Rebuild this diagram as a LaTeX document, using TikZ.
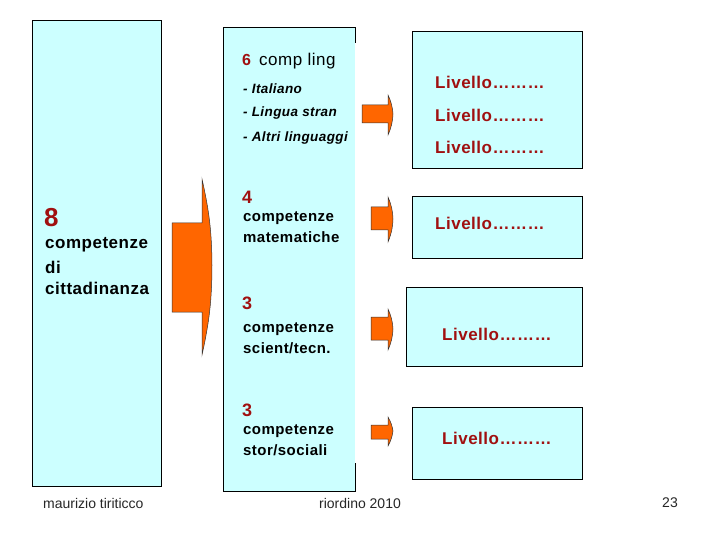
\documentclass[tikz,border=0pt]{standalone}
\usepackage{fontspec}
\setmainfont{Liberation Sans}
\newfontfamily\spaced[LetterSpace=3]{Liberation Sans}
\begin{document}
\begin{tikzpicture}[x=1pt,y=-1pt,
  panel/.style={fill=boxcyan,draw=black,line width=0.8pt},
  arrowshape/.style={fill=arroworange,draw=black!80,line width=0.5pt,line join=miter},
  lbl/.style={anchor=west,inner sep=0pt,font=\spaced\bfseries\fontsize{15}{17}\selectfont},
  num/.style={anchor=west,inner sep=0pt,text=numred,font=\bfseries\fontsize{18}{20}\selectfont},
  lang/.style={anchor=west,inner sep=0pt,font=\spaced\bfseries\itshape\fontsize{13.5}{15}\selectfont},
  liv/.style={anchor=west,inner sep=0pt,text=numred,font=\spaced\bfseries\fontsize{17}{19}\selectfont},
  foot/.style={inner sep=0pt,text=black!85,font=\fontsize{14}{16}\selectfont}]
\definecolor{boxcyan}{HTML}{CCFFFF}
\definecolor{arroworange}{HTML}{FF6600}
\definecolor{numred}{RGB}{160,16,16}
\useasboundingbox (0,0) rectangle (720,540);
% left panel
\draw[panel] (32,20) rectangle (161,486);
\node[num,font=\bfseries\fontsize{26}{28}\selectfont] (n8) at (44,218) {8};
\node[lbl,font=\spaced\bfseries\fontsize{17}{19}\selectfont] (l1) at (45,245) {competenze};
\node[lbl,font=\spaced\bfseries\fontsize{17}{19}\selectfont] (l2) at (45,267) {di};
\node[lbl,font=\spaced\bfseries\fontsize{17}{19}\selectfont] (l3) at (45,288) {cittadinanza};
% big arrow
\draw[arrowshape] (172,223) -- (202,223) -- (202,179) to[bend left=6] (212,265) to[bend left=6] (202,355) -- (202,312) -- (172,312) -- cycle;
% middle panel
\fill[boxcyan] (223,27) rectangle (355,491);
\draw[line width=0.8pt] (355,43) -- (355,27) -- (223,27) -- (223,491) -- (355,491) -- (355,463);
\node[num,font=\bfseries\fontsize{16}{18}\selectfont] (n6) at (242,60) {6};
\node[anchor=west,inner sep=0pt,font=\spaced\fontsize{17}{19}\selectfont] (cl) at (259,61) {comp ling};
\node[lang] (it) at (243,89) {- Italiano};
\node[lang] (ls) at (243,113) {- Lingua stran};
\node[lang] (al) at (243,138) {- Altri linguaggi};
\node[num] (n4) at (242,197) {4};
\node[lbl] (m1) at (243,218) {competenze};
\node[lbl] (m2) at (243,237) {matematiche};
\node[num] (n3a) at (242,303) {3};
\node[lbl] (s1) at (243,329) {competenze};
\node[lbl] (s2) at (243,348) {scient/tecn.};
\node[num] (n3b) at (242,410) {3};
\node[lbl] (h1) at (243,431) {competenze};
\node[lbl] (h2) at (243,450) {stor/sociali};
% small arrows
\draw[arrowshape] (362,105) -- (388,105) -- (388,95) to[bend left=10] (393,114) to[bend left=10] (388,135) -- (388,123) -- (362,123) -- cycle;
\draw[arrowshape] (371,207) -- (388,207) -- (388,197) to[bend left=10] (393,219) to[bend left=10] (388,242) -- (388,230) -- (371,230) -- cycle;
\draw[arrowshape] (371,317) -- (388,317) -- (388,309) to[bend left=10] (393,329) to[bend left=10] (388,350) -- (388,340) -- (371,340) -- cycle;
\draw[arrowshape] (371,425) -- (388,425) -- (388,417) to[bend left=10] (393,431) to[bend left=10] (388,446) -- (388,439) -- (371,439) -- cycle;
% right panels
\draw[panel] (412,31) rectangle (582,168);
\node[liv] (v1) at (435,82) {Livello………};
\node[liv] (v2) at (435,115) {Livello………};
\node[liv] (v3) at (435,147) {Livello………};
\draw[panel] (412,196) rectangle (582,258);
\node[liv] (v4) at (435,223) {Livello………};
\draw[panel] (406,287) rectangle (582,366);
\node[liv] (v5) at (442,334) {Livello………};
\draw[panel] (412,407) rectangle (582,479);
\node[liv] (v6) at (442,438) {Livello………};
% footer
\node[foot,anchor=west] (f1) at (43,503) {maurizio tiriticco};
\node[foot] (f2) at (360,503) {riordino 2010};
\node[foot] (f3) at (670,503) {23};
\end{tikzpicture}
\end{document}
